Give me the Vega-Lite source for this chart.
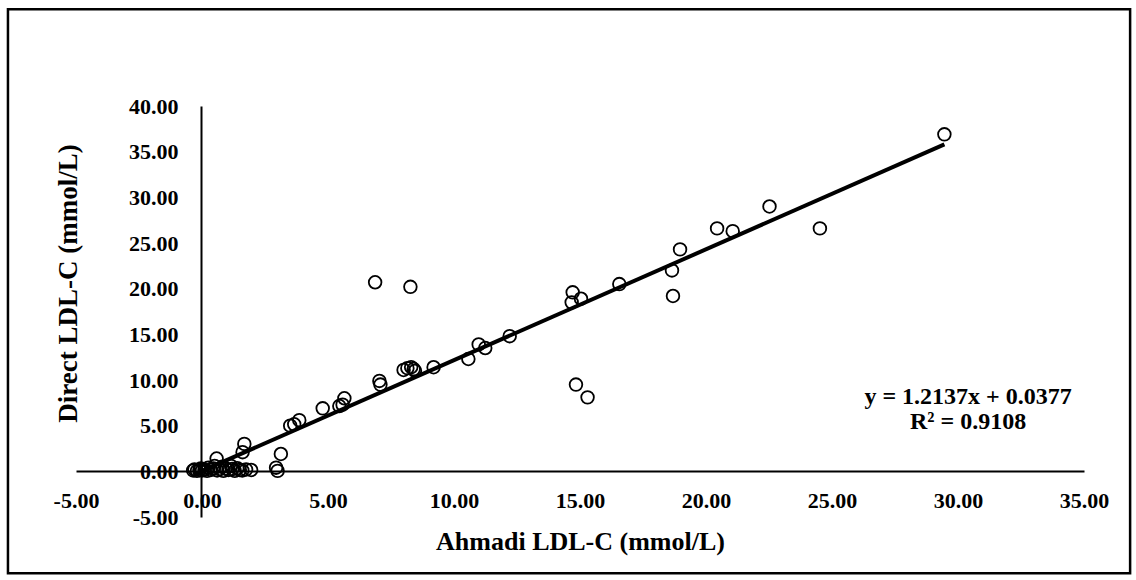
{
  "$schema": "https://vega.github.io/schema/vega-lite/v6.json",
  "width": 1008,
  "height": 411,
  "autosize": {"type": "none"},
  "padding": {"left": 76, "top": 106, "right": 52, "bottom": 63},
  "background": "white",
  "config": {
    "view": {"stroke": null},
    "locale": {"number": {"decimal": ".", "thousands": ",", "grouping": [3], "currency": ["$", ""], "minus": "-"}}
  },
  "datasets": {
    "points": [
      {"ahmadi": 29.46, "direct": 36.9},
      {"ahmadi": 22.52, "direct": 29.0},
      {"ahmadi": 24.52, "direct": 26.6},
      {"ahmadi": 20.44, "direct": 26.6},
      {"ahmadi": 21.06, "direct": 26.3},
      {"ahmadi": 18.97, "direct": 24.3},
      {"ahmadi": 18.65, "direct": 22.0},
      {"ahmadi": 18.69, "direct": 19.2},
      {"ahmadi": 16.56, "direct": 20.5},
      {"ahmadi": 14.71, "direct": 19.6},
      {"ahmadi": 14.67, "direct": 18.5},
      {"ahmadi": 15.04, "direct": 18.9},
      {"ahmadi": 6.87, "direct": 20.7},
      {"ahmadi": 8.27, "direct": 20.2},
      {"ahmadi": 12.21, "direct": 14.8},
      {"ahmadi": 10.98, "direct": 13.9},
      {"ahmadi": 11.24, "direct": 13.5},
      {"ahmadi": 10.57, "direct": 12.3},
      {"ahmadi": 9.19, "direct": 11.4},
      {"ahmadi": 8.0, "direct": 11.1},
      {"ahmadi": 8.15, "direct": 11.3},
      {"ahmadi": 8.3, "direct": 11.4},
      {"ahmadi": 8.4, "direct": 11.2},
      {"ahmadi": 8.45, "direct": 11.0},
      {"ahmadi": 14.84, "direct": 9.5},
      {"ahmadi": 15.3, "direct": 8.1},
      {"ahmadi": 7.04, "direct": 9.9},
      {"ahmadi": 7.08, "direct": 9.5},
      {"ahmadi": 4.79, "direct": 6.9},
      {"ahmadi": 5.45, "direct": 7.15},
      {"ahmadi": 5.65, "direct": 8.0},
      {"ahmadi": 5.58, "direct": 7.3},
      {"ahmadi": 3.5, "direct": 5.0},
      {"ahmadi": 3.66, "direct": 5.15},
      {"ahmadi": 3.86, "direct": 5.6},
      {"ahmadi": 3.13, "direct": 1.9},
      {"ahmadi": 2.94, "direct": 0.4},
      {"ahmadi": 3.0, "direct": 0.05},
      {"ahmadi": 1.68, "direct": 3.0},
      {"ahmadi": 1.61, "direct": 2.1},
      {"ahmadi": 0.58, "direct": 1.4},
      {"ahmadi": -0.35, "direct": 0.1},
      {"ahmadi": -0.3, "direct": 0.2},
      {"ahmadi": -0.2, "direct": 0.05},
      {"ahmadi": -0.1, "direct": 0.15},
      {"ahmadi": -0.05, "direct": 0.3},
      {"ahmadi": 0.0, "direct": 0.1},
      {"ahmadi": 0.1, "direct": 0.2},
      {"ahmadi": 0.2, "direct": 0.05},
      {"ahmadi": 0.25, "direct": 0.4},
      {"ahmadi": 0.35, "direct": 0.15},
      {"ahmadi": 0.45, "direct": 0.3},
      {"ahmadi": 0.5, "direct": 0.6},
      {"ahmadi": 0.6, "direct": 0.1},
      {"ahmadi": 0.7, "direct": 0.25},
      {"ahmadi": 0.8, "direct": 0.5},
      {"ahmadi": 0.85, "direct": 0.05},
      {"ahmadi": 0.95, "direct": 0.3},
      {"ahmadi": 1.05, "direct": 0.15},
      {"ahmadi": 1.15, "direct": 0.6},
      {"ahmadi": 1.2, "direct": 0.25},
      {"ahmadi": 1.3, "direct": 0.05},
      {"ahmadi": 1.4, "direct": 0.35},
      {"ahmadi": 1.5, "direct": 0.15},
      {"ahmadi": 1.6, "direct": 0.1},
      {"ahmadi": 1.75, "direct": 0.2},
      {"ahmadi": 1.95, "direct": 0.15}
    ],
    "trend": [
      {"ahmadi": -0.35, "direct": -0.387},
      {"ahmadi": 29.46, "direct": 35.79}
    ],
    "equation": [
      {"line1": "y = 1.2137x + 0.0377", "line2": "R² = 0.9108", "ex": 30.4, "ey": 6.74}
    ]
  },
  "layer": [
    {
      "data": {"name": "equation"},
      "mark": {"type": "rect", "filled": false, "stroke": "black", "strokeWidth": 2.5, "clip": false},
      "encoding": {
        "x": {"datum": -7.7, "type": "quantitative"},
        "x2": {"datum": 36.83},
        "y": {"datum": 50.6, "type": "quantitative"},
        "y2": {"datum": -11.17}
      }
    },
    {
      "data": {"name": "trend"},
      "mark": {"type": "line", "color": "black", "strokeWidth": 4},
      "encoding": {
        "x": {"field": "ahmadi", "type": "quantitative"},
        "y": {"field": "direct", "type": "quantitative"}
      }
    },
    {
      "data": {"name": "points"},
      "mark": {"type": "point", "shape": "circle", "filled": false, "stroke": "black", "strokeWidth": 1.8, "size": 160, "opacity": 1},
      "encoding": {
        "x": {
          "field": "ahmadi", "type": "quantitative",
          "scale": {"domain": [-5, 35], "nice": false, "zero": false},
          "axis": {
            "orient": "bottom", "offset": -46,
            "title": "Ahmadi LDL-C (mmol/L)",
            "values": [-5, 0, 5, 10, 15, 20, 25, 30, 35],
            "format": ".2f", "ticks": false, "grid": false,
            "domainColor": "black", "domainWidth": 2,
            "labelFont": "Liberation Serif", "labelFontWeight": "bold", "labelFontSize": 22, "labelColor": "black",
            "labelPadding": 19, "labelFlush": false, "labelOverlap": false,
            "titleFont": "Liberation Serif", "titleFontWeight": "bold", "titleFontSize": 26, "titleColor": "black",
            "titleY": 70, "titleBaseline": "middle"
          }
        },
        "y": {
          "field": "direct", "type": "quantitative",
          "scale": {"domain": [-5, 40], "nice": false, "zero": false},
          "axis": {
            "orient": "left", "offset": -125,
            "title": "Direct LDL-C (mmol/L)",
            "values": [-5, 0, 5, 10, 15, 20, 25, 30, 35, 40],
            "format": ".2f", "ticks": false, "grid": false,
            "domainColor": "black", "domainWidth": 2,
            "labelFont": "Liberation Serif", "labelFontWeight": "bold", "labelFontSize": 22, "labelColor": "black",
            "labelPadding": 23, "labelFlush": false, "labelOverlap": false,
            "titleFont": "Liberation Serif", "titleFontWeight": "bold", "titleFontSize": 27, "titleColor": "black",
            "titleX": -133, "titleY": 177, "titleBaseline": "middle"
          }
        }
      }
    },
    {
      "data": {"name": "equation"},
      "mark": {"type": "text", "font": "Liberation Serif", "fontWeight": "bold", "fontSize": 24, "align": "center", "baseline": "middle", "color": "black", "dy": -12.5},
      "encoding": {
        "x": {"field": "ex", "type": "quantitative"},
        "y": {"field": "ey", "type": "quantitative"},
        "text": {"field": "line1"}
      }
    },
    {
      "data": {"name": "equation"},
      "mark": {"type": "text", "font": "Liberation Serif", "fontWeight": "bold", "fontSize": 24, "align": "center", "baseline": "middle", "color": "black", "dy": 12.5},
      "encoding": {
        "x": {"field": "ex", "type": "quantitative"},
        "y": {"field": "ey", "type": "quantitative"},
        "text": {"field": "line2"}
      }
    }
  ]
}
